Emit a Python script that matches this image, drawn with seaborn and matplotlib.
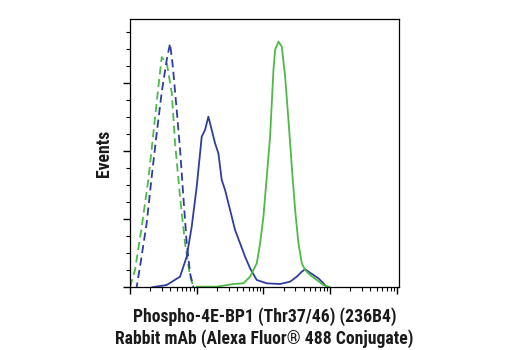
import numpy as np
import pandas as pd
import matplotlib
matplotlib.use("Agg")
import matplotlib.pyplot as plt
import seaborn as sns
from matplotlib.ticker import LogLocator, MultipleLocator, NullFormatter

sns.set_style("ticks")
plt.rcParams['font.family'] = ['Roboto Condensed', 'Liberation Sans', 'DejaVu Sans']

# log10 fluorescence (decades from axis origin) and event counts
blue_ctrl_x = [0.10, 0.15, 0.25, 0.325, 0.40, 0.475, 0.55, 0.60, 0.64, 0.70, 0.75, 0.80, 0.85, 0.90, 0.95]
blue_ctrl_y = [0, 15, 47, 81, 113, 143, 167, 179, 163, 130, 101, 66, 32, 10, 0]
green_ctrl_x = [0.0, 0.075, 0.175, 0.275, 0.35, 0.425, 0.475, 0.525, 0.55, 0.625, 0.675, 0.75, 0.825, 0.90, 0.95]
green_ctrl_y = [0, 12.5, 44, 79, 113, 147, 169, 166, 165, 143, 106, 66, 32, 8, 0]

blue_zx = [155, 200, 240, 260, 275, 290, 300, 305, 315, 325, 335, 345, 355, 365, 375, 385, 395, 405,
           420, 435, 450, 470, 500, 540, 570, 590, 605, 615, 625, 640, 655, 670, 680]
blue_zy = [832, 825, 800, 740, 650, 530, 430, 380, 360, 320, 360, 400, 430, 510, 540, 580, 620, 660,
           700, 740, 775, 810, 820, 822, 815, 800, 785, 778, 785, 795, 805, 820, 832]
green_zx = [290, 350, 400, 430, 450, 470, 480, 490, 500, 510, 515, 520, 525, 535, 545, 555, 565, 575,
            585, 595, 605, 615, 630, 650, 670, 690]
green_zy = [830, 830, 822, 820, 800, 760, 700, 620, 500, 380, 280, 180, 120, 95, 110, 200, 330, 470,
            600, 700, 760, 780, 795, 810, 825, 832]

blue_x = [(z / 3 - 30) / 66.7 for z in blue_zx]
blue_y = [(277 - z / 3) / 68 * 50 for z in blue_zy]
green_x = [(z / 3 - 30) / 66.7 for z in green_zx]
green_y = [(277 - z / 3) / 68 * 50 for z in green_zy]

BLUE = "#2e3d9f"
GREEN = "#4dbb45"

fig = plt.figure(figsize=(5.2, 3.5), dpi=100)
ax = fig.add_axes([130 / 520, 1 - 287 / 350, 269 / 520, 268 / 350])

series = [
    (green_ctrl_x, green_ctrl_y, GREEN, (0, (4.5, 2.5))),
    (blue_ctrl_x, blue_ctrl_y, BLUE, (2.0, (4.5, 2.5))),
    (blue_x, blue_y, BLUE, "-"),
    (green_x, green_y, GREEN, "-"),
]
for xs, ys, c, ls in series:
    df = pd.DataFrame({"x": 10 ** np.array(xs), "y": ys})
    sns.lineplot(data=df, x="x", y="y", sort=False, ax=ax, color=c, lw=1.3, linestyle=ls)

ax.set_xscale("log")
ax.set_xlim(1, 10 ** 4.03)
ax.set_ylim(0, 197)
ax.xaxis.set_major_locator(LogLocator(base=10, numticks=10))
ax.xaxis.set_minor_locator(LogLocator(base=10, subs=np.arange(2, 10), numticks=100))
ax.xaxis.set_major_formatter(NullFormatter())
ax.xaxis.set_minor_formatter(NullFormatter())
ax.yaxis.set_major_locator(MultipleLocator(50))
ax.yaxis.set_minor_locator(MultipleLocator(12.5))
ax.yaxis.set_major_formatter(NullFormatter())
ax.tick_params(which="major", length=5, width=1, color="black")
ax.tick_params(which="minor", length=3, width=0.8, color="black")
for s in ax.spines.values():
    s.set_linewidth(0.9)
    s.set_color("black")

ax.set_xlabel("Phospho-4E-BP1 (Thr37/46) (236B4)\nRabbit mAb (Alexa Fluor\u00ae 488 Conjugate)",
              fontsize=12.7, fontweight="bold", linespacing=1.2, labelpad=6, color="#1a1a1a")
ax.set_ylabel("Events", fontsize=12.7, fontweight="bold", labelpad=4, color="#1a1a1a")

fig.savefig("out.png", dpi=100)
